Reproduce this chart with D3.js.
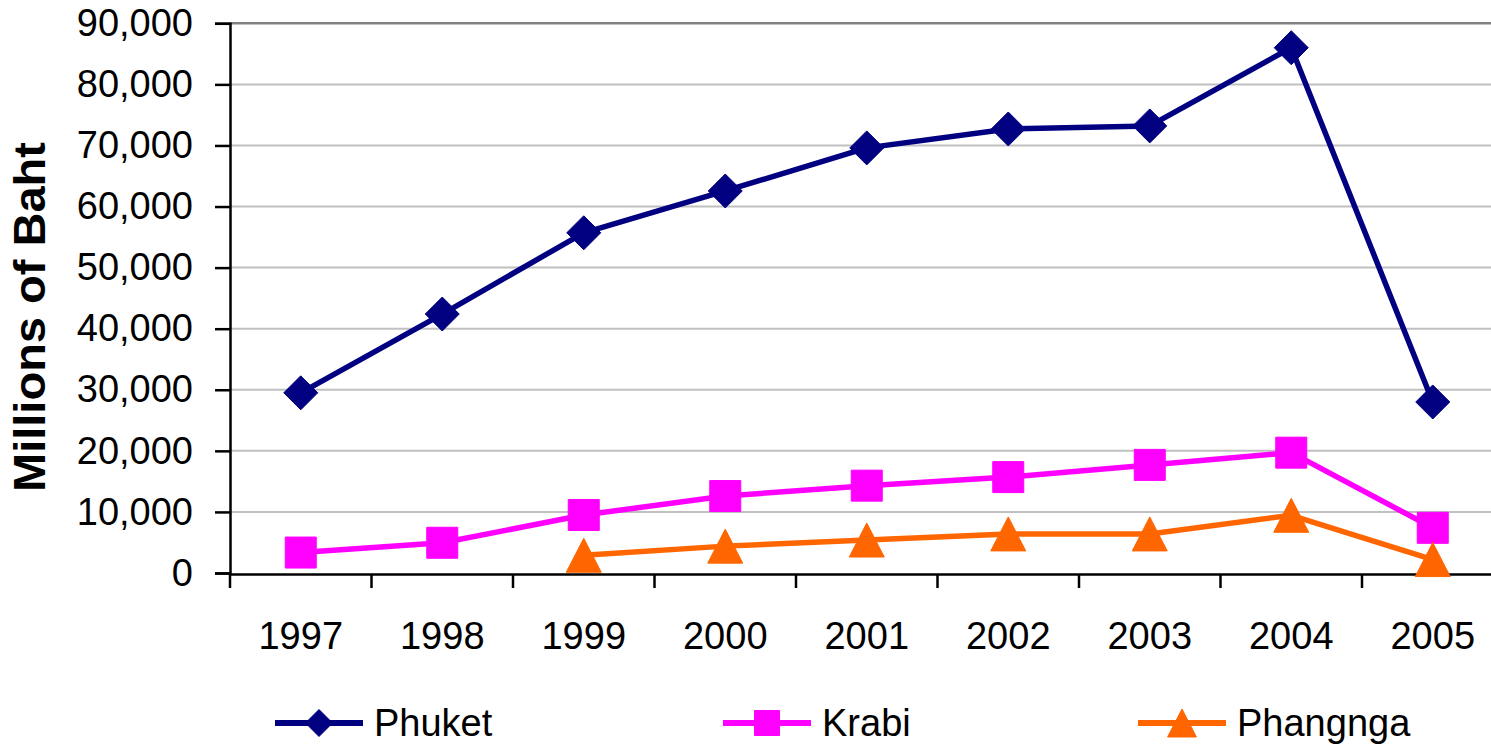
<!DOCTYPE html>
<html>
<head>
<meta charset="utf-8">
<script src="https://cdn.jsdelivr.net/npm/d3@7"></script>
<style>
  html, body { margin: 0; padding: 0; background: #fff; }
  svg { display: block; font-family: "Liberation Sans", Arial, sans-serif; }
</style>
</head>
<body>
<svg id="chart" width="1491" height="748"></svg>
<script>
// ---- data ----
const years = ["1997","1998","1999","2000","2001","2002","2003","2004","2005"];
const phuket = [29500, 42400, 55700, 62550, 69600, 72700, 73200, 86000, 28000];
const krabi = [3350, 4950, 9500, 12600, 14300, 15700, 17700, 19700, 7400];
const phangnga = [null, null, 2900, 4400, 5400, 6400, 6400, 9450, 2200];
const yTicks = [0, 10000, 20000, 30000, 40000, 50000, 60000, 70000, 80000, 90000];
const seriesNames = ["Phuket", "Krabi", "Phangnga"];
const seriesColors = ["#000080", "#FF00FF", "#FF6600"];

// ---- layout ----
const svg = d3.select("#chart");
const plotLeft = 230, plotTop = 23.3, plotBottom = 573, bandW = 141.5;
const x = d3.scaleBand().domain(years).range([plotLeft, plotLeft + bandW * years.length]).padding(0);
const y = d3.scaleLinear().domain([0, 90000]).range([plotBottom, plotTop]);
const cx = d => x(d) + x.bandwidth() / 2;

// custom marker shapes
const diamondSym = { draw(ctx, size) { const r = Math.sqrt(size) / 2; ctx.moveTo(0, -r); ctx.lineTo(r, 0); ctx.lineTo(0, r); ctx.lineTo(-r, 0); ctx.closePath(); } };
const squareSym = { draw(ctx, size) { const r = Math.sqrt(size) / 2; ctx.rect(-r, -r, 2 * r, 2 * r); } };
const triSym = { draw(ctx, size) { const r = Math.sqrt(size) / 2; ctx.moveTo(0, -r); ctx.lineTo(r * 1.03, r); ctx.lineTo(-r * 1.03, r); ctx.closePath(); } };
const symbols = [diamondSym, squareSym, triSym];
const markerSizes = [34 * 34, 31 * 31, 34 * 34];
const legendSizes = [27 * 27, 25 * 25, 28 * 28];

// gridlines
svg.append("g").selectAll("line").data(yTicks.filter(t => t > 0)).join("line")
  .attr("x1", plotLeft).attr("x2", 1491)
  .attr("y1", d => y(d)).attr("y2", d => y(d))
  .attr("stroke", d => d === 90000 ? "#808080" : "#C0C0C0")
  .attr("stroke-width", d => d === 90000 ? 2.5 : 2);

// y axis
const yAxis = d3.axisLeft(y).tickValues(yTicks).tickSize(15).tickPadding(22)
  .tickFormat(d3.format(","));
const gy = svg.append("g").attr("transform", `translate(${plotLeft},0)`).call(yAxis);
gy.select(".domain").attr("stroke", "#000").attr("stroke-width", 2.5);
gy.selectAll(".tick line").attr("stroke", "#000").attr("stroke-width", 2.5);
gy.selectAll(".tick text").attr("font-size", 38).attr("fill", "#000")
  .attr("font-family", "Liberation Sans, Arial, sans-serif");

// x axis
const xAxis = d3.axisBottom(x).tickSize(0).tickPadding(48);
const gx = svg.append("g").attr("transform", `translate(0,${plotBottom + 1})`).call(xAxis);
gx.select(".domain").attr("stroke", "#000").attr("stroke-width", 2.5);
gx.selectAll(".tick text").attr("font-size", 38).attr("fill", "#000")
  .attr("font-family", "Liberation Sans, Arial, sans-serif");
// category boundary ticks
const bounds = years.map(d => x(d)).concat([x(years[years.length - 1]) + x.bandwidth()]);
gx.append("g").selectAll("line").data(bounds).join("line")
  .attr("x1", d => d).attr("x2", d => d).attr("y1", 0).attr("y2", 14)
  .attr("stroke", "#000").attr("stroke-width", 2.5);

// y title
svg.append("text")
  .attr("transform", "translate(45,317) rotate(-90)")
  .attr("text-anchor", "middle")
  .attr("font-size", 44).attr("font-weight", "bold").attr("fill", "#000")
  .attr("textLength", 350).attr("lengthAdjust", "spacingAndGlyphs")
  .text("Millions of Baht");

// series
const allSeries = [phuket, krabi, phangnga];
allSeries.forEach((vals, i) => {
  const pts = years.map((yr, j) => ({ yr, v: vals[j] })).filter(p => p.v != null);
  const line = d3.line().x(p => cx(p.yr)).y(p => y(p.v));
  svg.append("path").datum(pts).attr("d", line)
    .attr("fill", "none").attr("stroke", seriesColors[i])
    .attr("stroke-width", 5.5).attr("stroke-linejoin", "round");
  svg.append("g").selectAll("path").data(pts).join("path")
    .attr("transform", p => `translate(${cx(p.yr)},${y(p.v)})`)
    .attr("d", d3.symbol().type(symbols[i]).size(markerSizes[i]))
    .attr("fill", seriesColors[i])
    .attr("stroke", seriesColors[i]).attr("stroke-width", 1).attr("stroke-linejoin", "round");
});

// legend
const legendX = [275, 723, 1138];
const legendY = 723;
seriesNames.forEach((name, i) => {
  const g = svg.append("g").attr("transform", `translate(${legendX[i]},${legendY})`);
  g.append("line").attr("x1", 0).attr("x2", 88).attr("y1", 0).attr("y2", 0)
    .attr("stroke", seriesColors[i]).attr("stroke-width", 6);
  g.append("path").attr("transform", "translate(44,0)")
    .attr("d", d3.symbol().type(symbols[i]).size(legendSizes[i]))
    .attr("fill", seriesColors[i]).attr("stroke", seriesColors[i]).attr("stroke-linejoin", "round");
  g.append("text").attr("x", 99).attr("y", 13)
    .attr("font-size", 38).attr("fill", "#000").text(name);
});
</script>
</body>
</html>
